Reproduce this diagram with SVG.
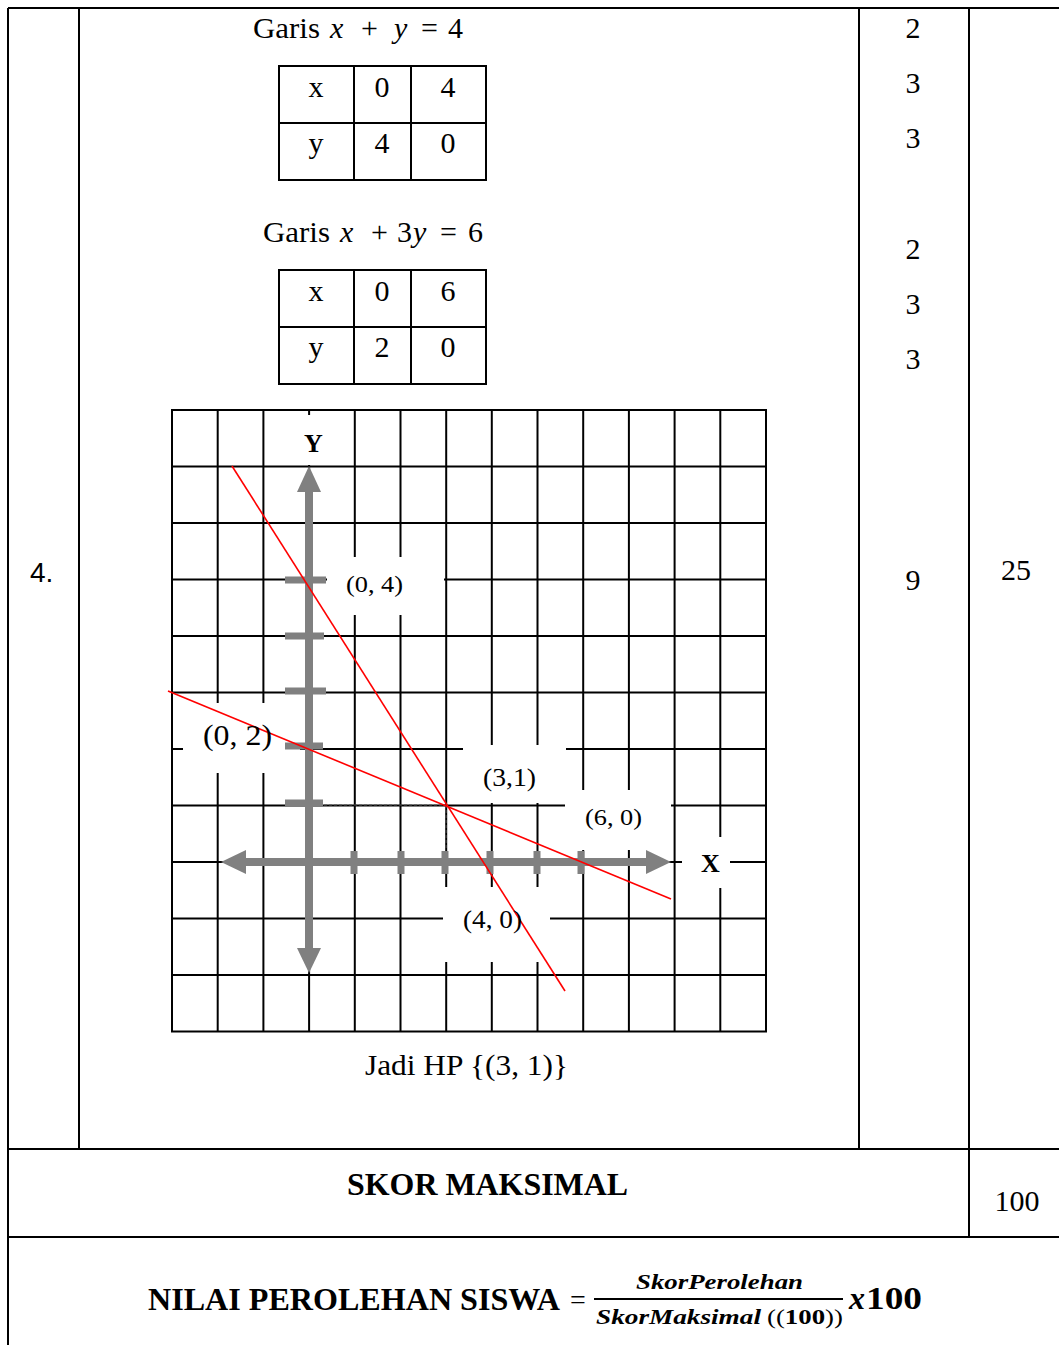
<svg xmlns="http://www.w3.org/2000/svg" width="1059" height="1345" viewBox="0 0 1059 1345">
<style>
.b{stroke:#000;stroke-width:2;fill:none}
.g{stroke:#000;stroke-width:2}
.t{font-family:"Liberation Serif","Times New Roman",serif;fill:#000}
.m{font-family:"Liberation Serif","Times New Roman",serif;font-style:italic;fill:#000}
.ax{stroke:#808080;stroke-width:8;fill:none}
.tk{stroke:#808080;stroke-width:7}
.ah{fill:#808080}
.red{stroke:#ff0000;stroke-width:1.6;fill:none}
.dash{stroke:#555;stroke-width:1;stroke-dasharray:3 2}
.wb{fill:#fff}
</style>
<rect width="1059" height="1345" fill="#fff"/>
<g id="outer-table">
<line class="b" x1="8" y1="8" x2="1059" y2="8"/>
<line class="b" x1="8" y1="8" x2="8" y2="1345"/>
<line class="b" x1="79" y1="8" x2="79" y2="1149"/>
<line class="b" x1="859" y1="8" x2="859" y2="1149"/>
<line class="b" x1="969" y1="8" x2="969" y2="1237"/>
<line class="b" x1="8" y1="1149" x2="1059" y2="1149"/>
<line class="b" x1="8" y1="1237" x2="1059" y2="1237"/>
</g>
<g id="row-number"><text x="30" y="582" style="font-family:'Liberation Sans',Arial,sans-serif" font-size="28">4.</text></g>
<g id="scores" class="t" font-size="30" text-anchor="middle">
<text x="913" y="38">2</text>
<text x="913" y="93">3</text>
<text x="913" y="148">3</text>
<text x="913" y="259">2</text>
<text x="913" y="314">3</text>
<text x="913" y="369">3</text>
<text x="913" y="590">9</text>
<text x="1016" y="580">25</text>
</g>
<g id="garis1" font-size="30">
<text class="t" x="253" y="38" textLength="67" lengthAdjust="spacingAndGlyphs">Garis</text>
<text class="m" x="330" y="38">x</text>
<text class="t" x="361" y="38">+</text>
<text class="m" x="394" y="38">y</text>
<text class="t" x="421" y="38">=</text>
<text class="t" x="448" y="38">4</text>
</g>
<g id="table1">
<rect class="b" x="279" y="66" width="207" height="114"/>
<line class="b" x1="354" y1="66" x2="354" y2="180"/>
<line class="b" x1="411" y1="66" x2="411" y2="180"/>
<line class="b" x1="279" y1="123" x2="486" y2="123"/>
<g class="t" font-size="30" text-anchor="middle">
<text x="316" y="97">x</text><text x="382" y="97">0</text><text x="448" y="97">4</text>
<text x="316" y="153">y</text><text x="382" y="153">4</text><text x="448" y="153">0</text>
</g>
</g>
<g id="garis2" font-size="30">
<text class="t" x="263" y="242" textLength="67" lengthAdjust="spacingAndGlyphs">Garis</text>
<text class="m" x="340" y="242">x</text>
<text class="t" x="371" y="242">+</text>
<text class="t" x="397" y="242">3</text>
<text class="m" x="413" y="242">y</text>
<text class="t" x="440" y="242">=</text>
<text class="t" x="468" y="242">6</text>
</g>
<g id="table2">
<rect class="b" x="279" y="270" width="207" height="114"/>
<line class="b" x1="354" y1="270" x2="354" y2="384"/>
<line class="b" x1="411" y1="270" x2="411" y2="384"/>
<line class="b" x1="279" y1="327" x2="486" y2="327"/>
<g class="t" font-size="30" text-anchor="middle">
<text x="316" y="301">x</text><text x="382" y="301">0</text><text x="448" y="301">6</text>
<text x="316" y="357">y</text><text x="382" y="357">2</text><text x="448" y="357">0</text>
</g>
</g>
<g id="grid">
<rect class="b" x="172" y="410" width="594" height="621.5"/>
<g class="g">
<line x1="217.7" y1="410" x2="217.7" y2="1031.5"/>
<line x1="263.4" y1="410" x2="263.4" y2="1031.5"/>
<line x1="309.1" y1="410" x2="309.1" y2="1031.5"/>
<line x1="354.8" y1="410" x2="354.8" y2="1031.5"/>
<line x1="400.5" y1="410" x2="400.5" y2="1031.5"/>
<line x1="446.2" y1="410" x2="446.2" y2="1031.5"/>
<line x1="491.8" y1="410" x2="491.8" y2="1031.5"/>
<line x1="537.5" y1="410" x2="537.5" y2="1031.5"/>
<line x1="583.2" y1="410" x2="583.2" y2="1031.5"/>
<line x1="628.9" y1="410" x2="628.9" y2="1031.5"/>
<line x1="674.6" y1="410" x2="674.6" y2="1031.5"/>
<line x1="720.3" y1="410" x2="720.3" y2="1031.5"/>
<line x1="172" y1="466.5" x2="766" y2="466.5"/>
<line x1="172" y1="523" x2="766" y2="523"/>
<line x1="172" y1="579.5" x2="766" y2="579.5"/>
<line x1="172" y1="636" x2="766" y2="636"/>
<line x1="172" y1="692.5" x2="766" y2="692.5"/>
<line x1="172" y1="749" x2="766" y2="749"/>
<line x1="172" y1="805.5" x2="766" y2="805.5"/>
<line x1="172" y1="862" x2="766" y2="862"/>
<line x1="172" y1="918.5" x2="766" y2="918.5"/>
<line x1="172" y1="975" x2="766" y2="975"/>
</g>
<g class="wb">
<rect x="285" y="415" width="42" height="50"/>
<rect x="327" y="557" width="117" height="58"/>
<rect x="183" y="703" width="117" height="70"/>
<rect x="463" y="745" width="103" height="58"/>
<rect x="565" y="790" width="106" height="60"/>
<rect x="682" y="837" width="48" height="51"/>
<rect x="443" y="887" width="107" height="75"/>
</g>
</g>
<g id="connectors">
<g id="y-axis">
<line class="ax" x1="309" y1="488" x2="309" y2="952"/>
<polygon class="ah" points="309,466 297,492 321,492"/>
<polygon class="ah" points="309,973 297,948 321,948"/>
</g>
<g id="x-axis">
<line class="ax" x1="243" y1="862" x2="648" y2="862"/>
<polygon class="ah" points="221,862 246,850 246,874"/>
<polygon class="ah" points="671,862 646,850 646,874"/>
</g>
<g id="ticks" class="tk">
<line x1="285" y1="580" x2="326" y2="580"/>
<line x1="285" y1="636" x2="324" y2="636"/>
<line x1="285" y1="691" x2="326" y2="691"/>
<line x1="285" y1="746" x2="323" y2="746"/>
<line x1="285" y1="803" x2="323" y2="803"/>
<line x1="354" y1="851" x2="354" y2="874"/>
<line x1="401" y1="851" x2="401" y2="874"/>
<line x1="445" y1="851" x2="445" y2="874"/>
<line x1="490" y1="851" x2="490" y2="874"/>
<line x1="537" y1="851" x2="537" y2="874"/>
<line x1="581" y1="851" x2="581" y2="874"/>
</g>
<line class="dash" x1="324" y1="805" x2="446" y2="805"/>
<line class="dash" x1="446" y1="805" x2="446" y2="850"/>
<line id="line-x-y-4" class="red" x1="232" y1="466" x2="565" y2="991"/>
<line id="line-x-3y-6" class="red" x1="168" y1="691" x2="671" y2="899"/>
</g>
<g id="graph-labels" class="t">
<text x="304" y="452" font-size="26" font-weight="bold">Y</text>
<text x="701" y="872" font-size="26" font-weight="bold">X</text>
<text x="346" y="592" font-size="24" textLength="57" lengthAdjust="spacingAndGlyphs">(0, 4)</text>
<text x="203" y="745" font-size="30" textLength="69" lengthAdjust="spacingAndGlyphs">(0, 2)</text>
<text x="483" y="786" font-size="26" textLength="53" lengthAdjust="spacingAndGlyphs">(3,1)</text>
<text x="585" y="825" font-size="24" textLength="57" lengthAdjust="spacingAndGlyphs">(6, 0)</text>
<text x="463" y="928" font-size="26" textLength="59" lengthAdjust="spacingAndGlyphs">(4, 0)</text>
</g>
<g id="conclusion"><text class="t" x="365" y="1075" font-size="30" textLength="203" lengthAdjust="spacingAndGlyphs">Jadi HP {(3, 1)}</text></g>
<g id="skor-maksimal">
<text class="t" x="347" y="1195" font-size="31" font-weight="bold" textLength="281" lengthAdjust="spacingAndGlyphs">SKOR MAKSIMAL</text>
<text class="t" x="1017" y="1211" font-size="30" text-anchor="middle">100</text>
</g>
<g id="nilai">
<text class="t" x="148" y="1310" font-size="32" font-weight="bold" textLength="412" lengthAdjust="spacingAndGlyphs">NILAI PEROLEHAN SISWA</text>
<text class="t" x="570" y="1309" font-size="28">=</text>
<text class="m" x="636" y="1289" font-size="22" font-weight="bold" textLength="167" lengthAdjust="spacingAndGlyphs">SkorPerolehan</text>
<line x1="594" y1="1299" x2="843" y2="1299" stroke="#000" stroke-width="2.2"/>
<text class="m" x="596" y="1324" font-size="22" font-weight="bold" textLength="165" lengthAdjust="spacingAndGlyphs">SkorMaksimal</text>
<text class="t" x="767" y="1324" font-size="22" textLength="76" lengthAdjust="spacingAndGlyphs">((<tspan font-weight="bold">100</tspan>))</text>
<text class="m" x="849" y="1309" font-size="32" font-weight="bold">x</text>
<text class="t" x="866" y="1309" font-size="32" font-weight="bold" textLength="56" lengthAdjust="spacingAndGlyphs">100</text>
</g>
</svg>
